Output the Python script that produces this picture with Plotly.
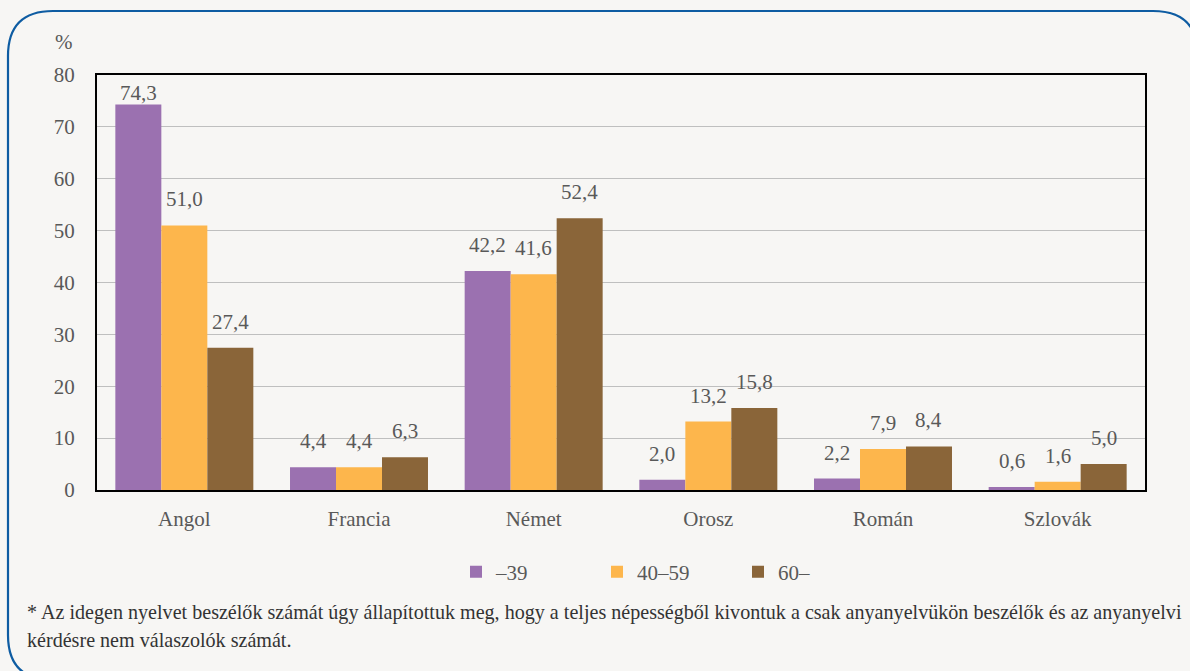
import plotly.graph_objects as go

categories = ["Angol", "Francia", "Német", "Orosz", "Román", "Szlovák"]
series_names = ["–39", "40–59", "60–"]
v_39 = [74.3, 4.4, 42.2, 2.0, 2.2, 0.6]
v_40_59 = [51.0, 4.4, 41.6, 13.2, 7.9, 1.6]
v_60 = [27.4, 6.3, 52.4, 15.8, 8.4, 5.0]
y_ticks = [0, 10, 20, 30, 40, 50, 60, 70, 80]
footnote_1 = "* Az idegen nyelvet beszélők számát úgy állapítottuk meg, hogy a teljes népességből kivontuk a csak anyanyelvükön beszélők és az anyanyelvi"
footnote_2 = "kérdésre nem válaszolók számát."

colors = ["#9b71b0", "#fdb64c", "#8a6539"]
FONT = "Liberation Serif, DejaVu Serif, serif"
TXT = "#595959"
FS = 21
W, H = 1190, 671
L, R, T, B = 97, 1145, 75, 490
BARGAP = 0.21

def fmt(v):
    return f"{v:.1f}".replace(".", ",")

def px(x):
    return (x - L) / (R - L)

def py(y):
    return (B - y) / (B - T)

fig = go.Figure()
all_series = [v_39, v_40_59, v_60]
for name, vals, c in zip(series_names, all_series, colors):
    fig.add_trace(go.Bar(
        x=categories, y=vals, name=name,
        marker=dict(color=c, line=dict(width=0)),
        cliponaxis=False,
    ))

# data labels
cat_w = (R - L) / len(categories)
bar_w = cat_w * (1 - BARGAP) / len(all_series)
px_per_unit = (B - T) / 80
annotations = []
for i, vals in enumerate(all_series):
    for cat, v in zip(categories, vals):
        room = (76.5 - v) * px_per_unit
        annotations.append(dict(
            x=cat, y=v, xref="x", yref="y", text=fmt(v), showarrow=False,
            xanchor="center", yanchor="middle",
            xshift=(i - 1) * bar_w, yshift=min(26, room),
            font=dict(family=FONT, size=FS, color=TXT),
        ))

# rounded border path in paper coords
x0, x1, y0, y1, r = 8, 1198, 11, 680, 45
path = (
    f"M {px(x0)},{py(y1 - r)} "
    f"L {px(x0)},{py(y0 + r)} "
    f"Q {px(x0)},{py(y0)} {px(x0 + r)},{py(y0)} "
    f"L {px(x1 - r)},{py(y0)} "
    f"Q {px(x1)},{py(y0)} {px(x1)},{py(y0 + r)} "
    f"M {px(x0)},{py(y1 - r)} "
    f"Q {px(x0)},{py(y1)} {px(x0 + r)},{py(y1)}"
)

annotations += [
    dict(text="%", xref="paper", yref="paper", x=px(64), y=py(42), xanchor="center", yanchor="middle",
         showarrow=False, font=dict(family=FONT, size=FS, color=TXT)),
    dict(text=footnote_1, xref="paper", yref="paper", x=px(25), y=py(612), xanchor="left", yanchor="middle",
         showarrow=False, font=dict(family=FONT, size=20.1, color="#333333")),
    dict(text=footnote_2, xref="paper", yref="paper", x=px(25), y=py(640), xanchor="left", yanchor="middle",
         showarrow=False, font=dict(family=FONT, size=20.1, color="#333333")),
]

fig.update_layout(
    width=W, height=H,
    margin=dict(l=L, r=W - R, t=T, b=H - B, pad=0),
    paper_bgcolor="#f7f6f4", plot_bgcolor="#f7f6f4",
    font=dict(family=FONT, size=FS, color=TXT),
    barmode="group", bargap=BARGAP, bargroupgap=0,
    showlegend=True,
    legend=dict(orientation="h", x=px(456), xanchor="left", y=py(572), yanchor="middle",
                font=dict(family=FONT, size=FS, color=TXT), bgcolor="rgba(0,0,0,0)",
                entrywidth=96, entrywidthmode="pixels"),
    xaxis=dict(showgrid=False, showline=True, linecolor="black", linewidth=2, mirror=True,
               ticks="", tickfont=dict(family=FONT, size=FS, color=TXT), ticklabelstandoff=9),
    yaxis=dict(range=[0, 80], tickvals=y_ticks, showgrid=True, gridcolor="#bfbfbf", gridwidth=1,
               showline=True, linecolor="black", linewidth=2, mirror=True, zeroline=False,
               ticks="", tickfont=dict(family=FONT, size=FS, color=TXT), ticklabelstandoff=16),
    shapes=[dict(type="path", xref="paper", yref="paper", path=path,
                 line=dict(color="#0e5ca2", width=2.2), layer="above")],
    annotations=annotations,
)

fig.write_html("out.html", config={"displayModeBar": False},
               post_script="document.body.style.margin='0';document.body.style.overflow='hidden';")
